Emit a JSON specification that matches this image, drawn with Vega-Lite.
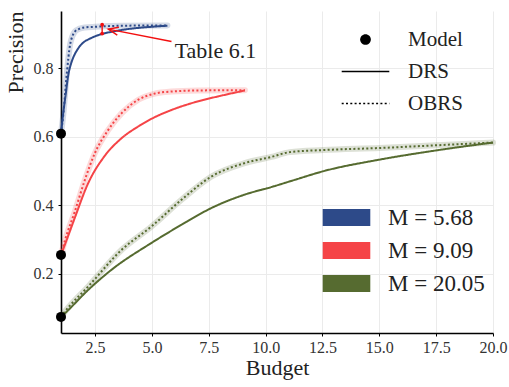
{
  "$schema": "https://vega.github.io/schema/vega-lite/v6.json",
  "width": 432,
  "height": 322,
  "autosize": {"type": "none"},
  "padding": {"left": 61, "top": 11, "right": 16, "bottom": 54},
  "config": {
    "view": {"stroke": null},
    "axis": {
      "gridColor": "#ebebeb",
      "gridWidth": 1,
      "domainColor": "black",
      "domainWidth": 1.6,
      "tickColor": "black",
      "tickSize": 3,
      "tickWidth": 1
    }
  },
  "datasets": {
    "curves": [
      {"M": "M = 5.68", "method": "DRS", "x": 1, "y": 0.609},
      {"M": "M = 5.68", "method": "DRS", "x": 1.1, "y": 0.67},
      {"M": "M = 5.68", "method": "DRS", "x": 1.2, "y": 0.72},
      {"M": "M = 5.68", "method": "DRS", "x": 1.32, "y": 0.78},
      {"M": "M = 5.68", "method": "DRS", "x": 1.45, "y": 0.815},
      {"M": "M = 5.68", "method": "DRS", "x": 1.55, "y": 0.833},
      {"M": "M = 5.68", "method": "DRS", "x": 1.7, "y": 0.852},
      {"M": "M = 5.68", "method": "DRS", "x": 1.85, "y": 0.866},
      {"M": "M = 5.68", "method": "DRS", "x": 2.0, "y": 0.876},
      {"M": "M = 5.68", "method": "DRS", "x": 2.2, "y": 0.884},
      {"M": "M = 5.68", "method": "DRS", "x": 2.5, "y": 0.893},
      {"M": "M = 5.68", "method": "DRS", "x": 2.8, "y": 0.9},
      {"M": "M = 5.68", "method": "DRS", "x": 3.2, "y": 0.906},
      {"M": "M = 5.68", "method": "DRS", "x": 3.7, "y": 0.912},
      {"M": "M = 5.68", "method": "DRS", "x": 4.3, "y": 0.917},
      {"M": "M = 5.68", "method": "DRS", "x": 5.0, "y": 0.921},
      {"M": "M = 5.68", "method": "DRS", "x": 5.68, "y": 0.924},
      {"M": "M = 5.68", "method": "OBRS", "x": 1, "y": 0.609},
      {"M": "M = 5.68", "method": "OBRS", "x": 1.1, "y": 0.664},
      {"M": "M = 5.68", "method": "OBRS", "x": 1.25, "y": 0.781},
      {"M": "M = 5.68", "method": "OBRS", "x": 1.4, "y": 0.869},
      {"M": "M = 5.68", "method": "OBRS", "x": 1.5, "y": 0.893},
      {"M": "M = 5.68", "method": "OBRS", "x": 1.6, "y": 0.906},
      {"M": "M = 5.68", "method": "OBRS", "x": 1.8, "y": 0.915},
      {"M": "M = 5.68", "method": "OBRS", "x": 2.05, "y": 0.919},
      {"M": "M = 5.68", "method": "OBRS", "x": 2.5, "y": 0.921},
      {"M": "M = 5.68", "method": "OBRS", "x": 3.7, "y": 0.924},
      {"M": "M = 5.68", "method": "OBRS", "x": 5.68, "y": 0.925},
      {"M": "M = 9.09", "method": "DRS", "x": 1, "y": 0.255},
      {"M": "M = 9.09", "method": "DRS", "x": 1.2, "y": 0.29},
      {"M": "M = 9.09", "method": "DRS", "x": 1.6, "y": 0.362},
      {"M": "M = 9.09", "method": "DRS", "x": 2.2, "y": 0.465},
      {"M": "M = 9.09", "method": "DRS", "x": 2.9, "y": 0.542},
      {"M": "M = 9.09", "method": "DRS", "x": 3.67, "y": 0.596},
      {"M": "M = 9.09", "method": "DRS", "x": 4.4, "y": 0.63},
      {"M": "M = 9.09", "method": "DRS", "x": 5.0, "y": 0.653},
      {"M": "M = 9.09", "method": "DRS", "x": 5.86, "y": 0.678},
      {"M": "M = 9.09", "method": "DRS", "x": 6.6, "y": 0.695},
      {"M": "M = 9.09", "method": "DRS", "x": 7.3, "y": 0.708},
      {"M": "M = 9.09", "method": "DRS", "x": 8.06, "y": 0.72},
      {"M": "M = 9.09", "method": "DRS", "x": 9.09, "y": 0.735},
      {"M": "M = 9.09", "method": "OBRS", "x": 1, "y": 0.255},
      {"M": "M = 9.09", "method": "OBRS", "x": 1.18, "y": 0.299},
      {"M": "M = 9.09", "method": "OBRS", "x": 1.6, "y": 0.38},
      {"M": "M = 9.09", "method": "OBRS", "x": 2.05, "y": 0.474},
      {"M": "M = 9.09", "method": "OBRS", "x": 2.49, "y": 0.552},
      {"M": "M = 9.09", "method": "OBRS", "x": 3.08, "y": 0.62},
      {"M": "M = 9.09", "method": "OBRS", "x": 3.67, "y": 0.669},
      {"M": "M = 9.09", "method": "OBRS", "x": 4.4, "y": 0.708},
      {"M": "M = 9.09", "method": "OBRS", "x": 5.13, "y": 0.726},
      {"M": "M = 9.09", "method": "OBRS", "x": 5.86, "y": 0.732},
      {"M": "M = 9.09", "method": "OBRS", "x": 7.0, "y": 0.735},
      {"M": "M = 9.09", "method": "OBRS", "x": 9.09, "y": 0.736},
      {"M": "M = 20.05", "method": "DRS", "x": 1, "y": 0.074},
      {"M": "M = 20.05", "method": "DRS", "x": 1.18, "y": 0.085},
      {"M": "M = 20.05", "method": "DRS", "x": 2.2, "y": 0.153},
      {"M": "M = 20.05", "method": "DRS", "x": 3.23, "y": 0.212},
      {"M": "M = 20.05", "method": "DRS", "x": 4.98, "y": 0.29},
      {"M": "M = 20.05", "method": "DRS", "x": 6.3, "y": 0.343},
      {"M": "M = 20.05", "method": "DRS", "x": 7.62, "y": 0.392},
      {"M": "M = 20.05", "method": "DRS", "x": 9.08, "y": 0.431},
      {"M": "M = 20.05", "method": "DRS", "x": 10.25, "y": 0.453},
      {"M": "M = 20.05", "method": "DRS", "x": 11.28, "y": 0.474},
      {"M": "M = 20.05", "method": "DRS", "x": 12.52, "y": 0.499},
      {"M": "M = 20.05", "method": "DRS", "x": 15, "y": 0.533},
      {"M": "M = 20.05", "method": "DRS", "x": 17.5, "y": 0.56},
      {"M": "M = 20.05", "method": "DRS", "x": 20, "y": 0.583},
      {"M": "M = 20.05", "method": "OBRS", "x": 1, "y": 0.074},
      {"M": "M = 20.05", "method": "OBRS", "x": 1.18, "y": 0.09},
      {"M": "M = 20.05", "method": "OBRS", "x": 2.2, "y": 0.163},
      {"M": "M = 20.05", "method": "OBRS", "x": 3.67, "y": 0.27},
      {"M": "M = 20.05", "method": "OBRS", "x": 4.98, "y": 0.338},
      {"M": "M = 20.05", "method": "OBRS", "x": 6.3, "y": 0.416},
      {"M": "M = 20.05", "method": "OBRS", "x": 7.62, "y": 0.484},
      {"M": "M = 20.05", "method": "OBRS", "x": 9.08, "y": 0.523},
      {"M": "M = 20.05", "method": "OBRS", "x": 10.25, "y": 0.541},
      {"M": "M = 20.05", "method": "OBRS", "x": 11.06, "y": 0.555},
      {"M": "M = 20.05", "method": "OBRS", "x": 12.52, "y": 0.561},
      {"M": "M = 20.05", "method": "OBRS", "x": 15, "y": 0.567},
      {"M": "M = 20.05", "method": "OBRS", "x": 17.5, "y": 0.575},
      {"M": "M = 20.05", "method": "OBRS", "x": 20, "y": 0.583}
    ],
    "model": [
      {"M": "M = 5.68", "x": 1, "y": 0.609},
      {"M": "M = 9.09", "x": 1, "y": 0.255},
      {"M": "M = 20.05", "x": 1, "y": 0.074}
    ],
    "gap": [
      {"x": 2.81, "y": 0.901, "y2": 0.927}
    ],
    "gapEnds": [
      {"x": 2.81, "y": 0.901},
      {"x": 2.81, "y": 0.927}
    ],
    "arrow": [
      {"x": 5.86, "y": 0.878, "x2": 3.08, "y2": 0.914}
    ],
    "arrowTip": [
      {"x": 3.08, "y": 0.914}
    ],
    "note": [
      {"x": 6.0, "y": 0.85, "label": "Table 6.1"}
    ]
  },
  "encoding": {
    "x": {
      "field": "x",
      "type": "quantitative",
      "scale": {"domain": [1, 20], "nice": false, "zero": false},
      "axis": {
        "title": "Budget",
        "values": [2.5, 5, 7.5, 10, 12.5, 15, 17.5, 20],
        "format": ".1f",
        "labelFont": "Liberation Serif",
        "titleFont": "Liberation Serif",
        "labelFontSize": 16,
        "titleFontSize": 22,
        "titleFontWeight": "normal",
        "labelColor": "#333333",
        "titleColor": "#222222",
        "labelPadding": 3,
        "titlePadding": 2,
        "labelFlush": false
      }
    },
    "y": {
      "field": "y",
      "type": "quantitative",
      "scale": {"domain": [0.027, 0.967], "nice": false, "zero": false},
      "axis": {
        "title": "Precision",
        "values": [0.2, 0.4, 0.6, 0.8],
        "format": ".1f",
        "labelFont": "Liberation Serif",
        "titleFont": "Liberation Serif",
        "labelFontSize": 16,
        "titleFontSize": 22,
        "titleFontWeight": "normal",
        "labelColor": "#333333",
        "titleColor": "#222222",
        "labelPadding": 5,
        "titleAnchor": "end",
        "titlePadding": 6
      }
    }
  },
  "layer": [
    {
      "data": {"name": "curves"},
      "transform": [{"filter": "datum.method === 'OBRS'"}],
      "mark": {"type": "line", "strokeWidth": 6, "opacity": 0.2, "strokeCap": "round", "interpolate": "monotone"},
      "encoding": {
        "color": {
          "field": "M",
          "type": "nominal",
          "scale": {"domain": ["M = 5.68", "M = 9.09", "M = 20.05"], "range": ["#2D4A89", "#F54447", "#566B30"]},
          "legend": {
            "orient": "none",
            "legendX": 274,
            "legendY": 195,
            "title": null,
            "padding": 0,
            "labelFont": "Liberation Serif",
            "labelFontSize": 23,
            "labelColor": "#222222",
            "labelOffset": 30,
            "rowPadding": 9,
            "symbolSize": 289,
            "symbolType": "M-2.8,-1H2.8V1H-2.8Z",
            "encode": {
              "symbols": {
                "update": {
                  "fill": {"scale": "color", "field": "value"},
                  "stroke": {"value": "transparent"},
                  "opacity": {"value": 1},
                  "strokeWidth": {"value": 0}
                }
              }
            }
          }
        }
      }
    },
    {
      "data": {"name": "curves"},
      "mark": {"type": "line", "strokeWidth": 2, "interpolate": "monotone"},
      "encoding": {
        "color": {
          "field": "M",
          "type": "nominal",
          "scale": {"domain": ["M = 5.68", "M = 9.09", "M = 20.05"], "range": ["#2D4A89", "#F54447", "#566B30"]},
          "legend": {
            "orient": "none",
            "legendX": 274,
            "legendY": 195,
            "title": null,
            "padding": 0,
            "labelFont": "Liberation Serif",
            "labelFontSize": 23,
            "labelColor": "#222222",
            "labelOffset": 30,
            "rowPadding": 9,
            "symbolSize": 289,
            "symbolType": "M-2.8,-1H2.8V1H-2.8Z",
            "encode": {
              "symbols": {
                "update": {
                  "fill": {"scale": "color", "field": "value"},
                  "stroke": {"value": "transparent"},
                  "opacity": {"value": 1},
                  "strokeWidth": {"value": 0}
                }
              }
            }
          }
        },
        "strokeDash": {
          "field": "method",
          "type": "nominal",
          "scale": {"domain": ["Model", "DRS", "OBRS"], "range": [[1, 0], [1, 0], [2, 2.3]]},
          "legend": {
            "orient": "none",
            "legendX": 294,
            "legendY": 18,
            "title": null,
            "padding": 0,
            "labelFont": "Liberation Serif",
            "labelFontSize": 21,
            "labelColor": "#222222",
            "labelOffset": 32,
            "rowPadding": 10,
            "symbolSize": 289,
            "symbolType": "M-2.8,0H2.8",
            "encode": {
              "symbols": {
                "update": {
                  "shape": {"signal": "datum.value === 'Model' ? 'M-0.63,0A0.63,0.63 0 1,0 0.63,0A0.63,0.63 0 1,0 -0.63,0Z' : 'M-2.8,0H2.8'"},
                  "fill": {"signal": "datum.value === 'Model' ? 'black' : 'transparent'"},
                  "stroke": {"signal": "datum.value === 'Model' ? 'transparent' : 'black'"},
                  "strokeWidth": {"value": 1.3},
                  "strokeDash": {"signal": "datum.value === 'OBRS' ? [1.2, 1.2] : [1, 0]"},
                  "opacity": {"value": 1}
                }
              }
            }
          }
        }
      }
    },
    {
      "data": {"name": "model"},
      "mark": {"type": "point", "filled": true, "color": "black", "size": 100, "opacity": 1}
    },
    {
      "data": {"name": "gap"},
      "mark": {"type": "rule", "color": "#F20F0F", "strokeWidth": 1.4},
      "encoding": {"y2": {"field": "y2"}}
    },
    {
      "data": {"name": "gapEnds"},
      "mark": {"type": "point", "filled": true, "color": "#F20F0F", "size": 14, "opacity": 1}
    },
    {
      "data": {"name": "arrow"},
      "mark": {"type": "rule", "color": "#F20F0F", "strokeWidth": 1.4},
      "encoding": {"x2": {"field": "x2"}, "y2": {"field": "y2"}}
    },
    {
      "data": {"name": "arrowTip"},
      "mark": {"type": "point", "filled": false, "color": "#F20F0F", "strokeWidth": 1.4, "size": 100, "opacity": 1, "angle": 11.5, "shape": "M2,-0.8L0,0L2,0.8"}
    },
    {
      "data": {"name": "note"},
      "mark": {"type": "text", "align": "left", "baseline": "middle", "fontSize": 22, "font": "Liberation Serif", "color": "#222222"},
      "encoding": {"text": {"field": "label"}}
    },
    {
      "mark": {"type": "rule", "color": "black", "strokeWidth": 1.6},
      "encoding": {"x": {"datum": 20}, "x2": {"datum": 20.63}, "y": {"datum": 0.027}}
    },
    {
      "mark": {"type": "point", "filled": false, "color": "black", "strokeWidth": 1.6, "size": 100, "opacity": 1, "shape": "M-1.8,-1.1L0,0L-1.8,1.1"},
      "encoding": {"x": {"datum": 20.63}, "y": {"datum": 0.027}}
    },
    {
      "mark": {"type": "rule", "color": "black", "strokeWidth": 1.6},
      "encoding": {"x": {"datum": 1}, "y": {"datum": 0.96}, "y2": {"datum": 0.99}}
    },
    {
      "mark": {"type": "point", "filled": false, "color": "black", "strokeWidth": 1.6, "size": 100, "opacity": 1, "shape": "M-1.1,2L0,0L1.1,2"},
      "encoding": {"x": {"datum": 1}, "y": {"datum": 0.99}}
    }
  ]
}
